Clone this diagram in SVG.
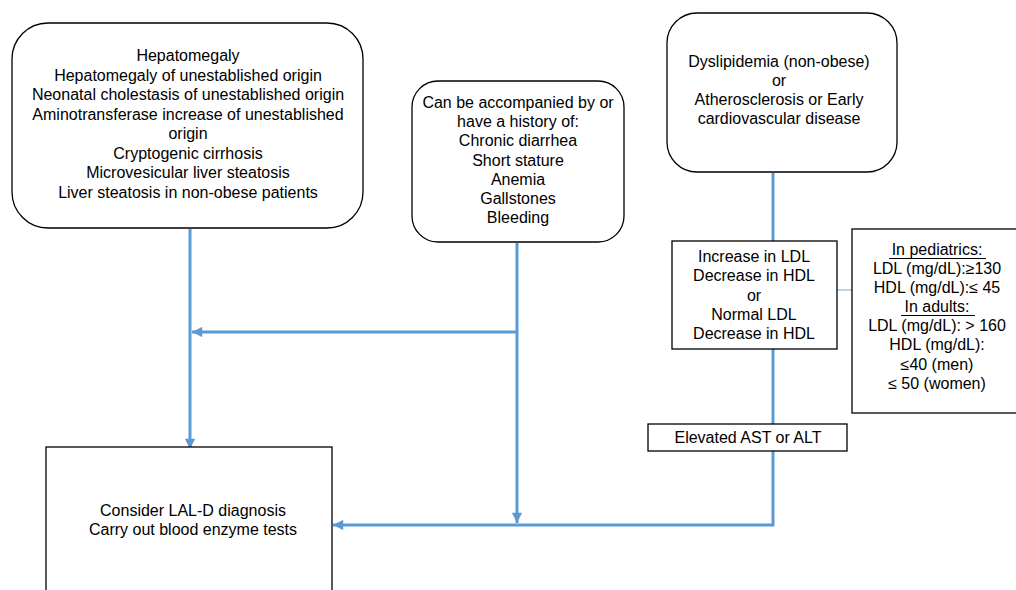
<svg xmlns="http://www.w3.org/2000/svg" width="1016" height="590" viewBox="0 0 1016 590">
<style>
.box{fill:#fff;stroke:#000;stroke-width:1.3}
text{font-family:"Liberation Sans",Arial,sans-serif;font-size:16px;fill:#000;text-anchor:middle}
.c{fill:none;stroke:#5b9bd5;stroke-width:3}
.thin{fill:none;stroke:#7fa7cf;stroke-width:1}
</style>
<defs>
<marker id="ah" viewBox="0 0 10 10" refX="10" refY="5" markerWidth="4" markerHeight="3.4" orient="auto" markerUnits="strokeWidth">
<path d="M0,0 L10,5 L0,10 z" fill="#5b9bd5"/>
</marker>
</defs>
<rect width="1016" height="590" fill="#fff"/>
<g id="connectors">
<path class="c" d="M190,229 V449" marker-end="url(#ah)"/>
<path class="c" d="M517,243 V523" marker-end="url(#ah)"/>
<path class="c" d="M517,332 H192" marker-end="url(#ah)"/>
<path class="c" d="M773,173 V241"/>
<path class="c" d="M773,349 V424"/>
<path class="c" d="M773,451 V525 H333" marker-end="url(#ah)"/>
<path class="thin" d="M837,290 H852"/>
</g>
<g id="n1">
<rect class="box" x="12" y="23" width="351" height="205" rx="36"/>
<text x="188" y="61">Hepatomegaly</text>
<text x="188" y="80.5">Hepatomegaly of unestablished origin</text>
<text x="188" y="100">Neonatal cholestasis of unestablished origin</text>
<text x="188" y="119.5">Aminotransferase increase of unestablished</text>
<text x="188" y="139">origin</text>
<text x="188" y="158.5">Cryptogenic cirrhosis</text>
<text x="188" y="178">Microvesicular liver steatosis</text>
<text x="188" y="197.5">Liver steatosis in non-obese patients</text>
</g>
<g id="n2">
<rect class="box" x="412" y="81" width="212" height="161" rx="26"/>
<text x="518" y="108">Can be accompanied by or</text>
<text x="518" y="127.2">have a history of:</text>
<text x="518" y="146.4">Chronic diarrhea</text>
<text x="518" y="165.6">Short stature</text>
<text x="518" y="184.8">Anemia</text>
<text x="518" y="204">Gallstones</text>
<text x="518" y="223.2">Bleeding</text>
</g>
<g id="n3">
<rect class="box" x="667" y="13" width="230" height="159" rx="30"/>
<text x="779" y="67">Dyslipidemia (non-obese)</text>
<text x="779" y="86">or</text>
<text x="779" y="105">Atherosclerosis or Early</text>
<text x="779" y="124">cardiovascular disease</text>
</g>
<g id="n4">
<rect class="box" x="672" y="241" width="165" height="108"/>
<text x="754" y="262">Increase in LDL</text>
<text x="754" y="281">Decrease in HDL</text>
<text x="754" y="301">or</text>
<text x="754" y="320">Normal LDL</text>
<text x="754" y="339">Decrease in HDL</text>
</g>
<g id="n5">
<rect class="box" x="852" y="229" width="170" height="184"/>
<text x="937" y="255">In pediatrics:</text>
<line x1="889" y1="258.5" x2="986" y2="258.5" stroke="#000" stroke-width="1"/>
<text x="937" y="274">LDL (mg/dL):≥130</text>
<text x="937" y="293">HDL (mg/dL):≤ 45</text>
<text x="937" y="312">In adults:</text>
<line x1="901" y1="315.5" x2="975" y2="315.5" stroke="#000" stroke-width="1"/>
<text x="937" y="331">LDL (mg/dL): &gt; 160</text>
<text x="937" y="350">HDL (mg/dL):</text>
<text x="937" y="370">≤40 (men)</text>
<text x="937" y="389">≤ 50 (women)</text>
</g>
<g id="n6">
<rect class="box" x="648" y="424" width="199" height="27"/>
<text x="748" y="443">Elevated AST or ALT</text>
</g>
<g id="n7">
<rect class="box" x="46" y="447" width="286" height="160"/>
<text x="193" y="516">Consider LAL-D diagnosis</text>
<text x="193" y="535">Carry out blood enzyme tests</text>
</g>
</svg>
